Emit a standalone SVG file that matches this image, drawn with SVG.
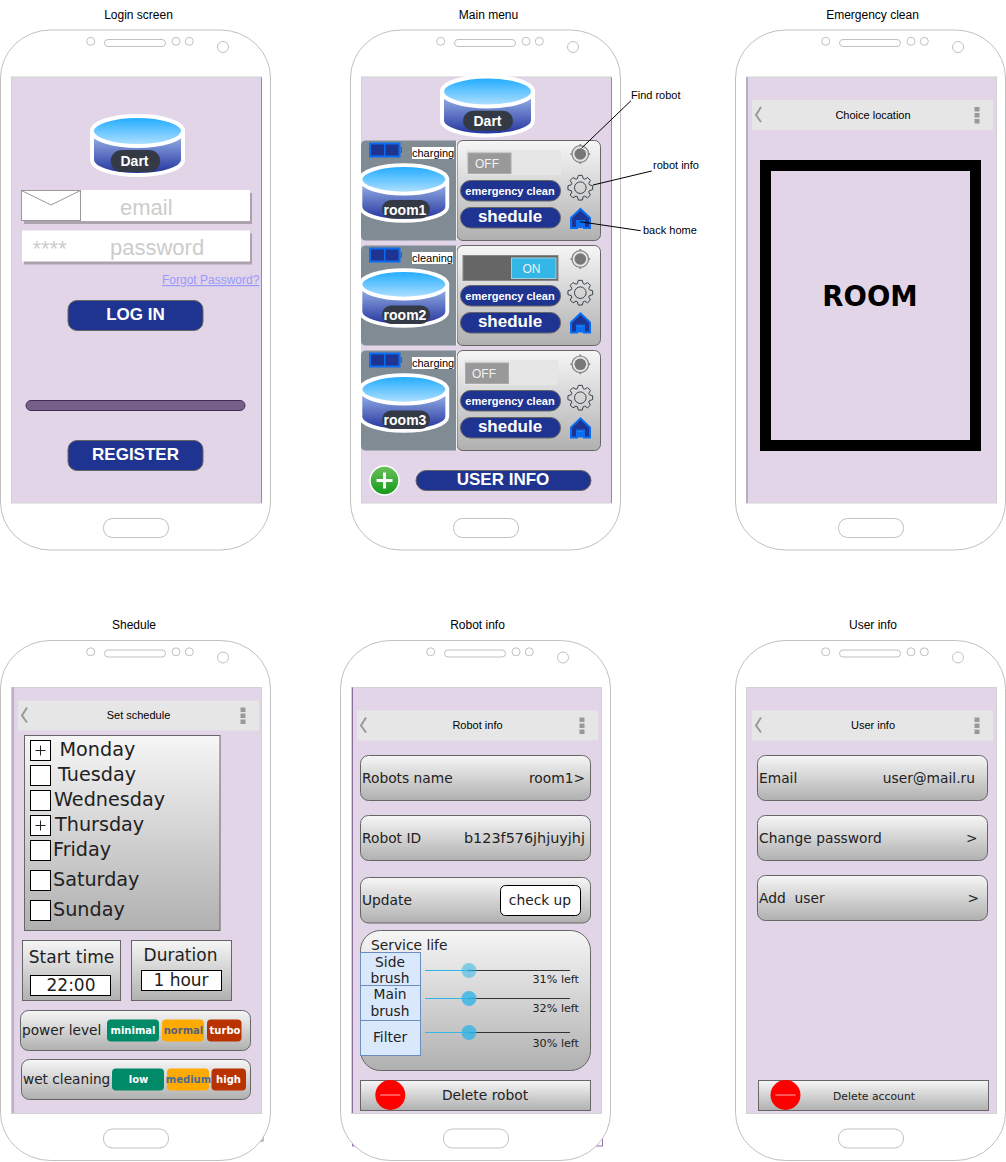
<svg xmlns="http://www.w3.org/2000/svg" width="1006" height="1162" viewBox="0 0 1006 1162">
<style>
text{font-family:"Liberation Sans",Arial,sans-serif;fill:#000}
.m{text-anchor:middle}
.e{text-anchor:end}
.h{font-size:12px}
.s{font-size:11px}
.b{font-weight:bold;fill:#fff}
.d{font-family:"DejaVu Sans",Verdana,sans-serif;fill:#222}
.r{font-size:13.8px}
.day{font-size:19.2px}
.big{font-size:17px}
.pill{fill:#1f3490;stroke:#666;stroke-width:1}
.grad{fill:url(#glass);stroke:#666;stroke-width:1}
.box{fill:#fff;stroke:#000;stroke-width:1}
.hint{fill:#ccc;font-size:22px}
.tag{font-family:"DejaVu Sans",Verdana,sans-serif;font-weight:bold;font-size:10px;text-anchor:middle}
.conn{stroke:#000;stroke-width:1;fill:none}
.edge{stroke:#9d86a8;stroke-width:1;fill:none}
.cell{fill:#dae8fc;stroke:#6c8ebf;stroke-width:1}
</style>
<defs>
<linearGradient id="glass" x1="0" y1="0" x2="0" y2="1"><stop offset="0" stop-color="#f6f6f6"/><stop offset="1" stop-color="#b0b0b0"/></linearGradient>
<linearGradient id="topG" x1="0" y1="0" x2="0" y2="1"><stop offset="0" stop-color="#1aa9ff"/><stop offset="1" stop-color="#b5e2ff"/></linearGradient>
<linearGradient id="bodyG" x1="0" y1="0" x2="0" y2="1"><stop offset="0" stop-color="#a4c0ee"/><stop offset="1" stop-color="#1f2f9c"/></linearGradient>
<linearGradient id="plusG" x1="0" y1="0" x2="0" y2="1"><stop offset="0" stop-color="#6cc05c"/><stop offset="1" stop-color="#129a18"/></linearGradient>
<g id="phone">
<rect x="0" y="0" width="270" height="520" rx="50" ry="48" fill="#fff" stroke="#c0c0c0"/>
<circle cx="90.2" cy="11.3" r="4" fill="#fff" stroke="#c0c0c0"/>
<rect x="104" y="9.5" width="61" height="7" rx="3.5" fill="#fff" stroke="#c0c0c0"/>
<circle cx="175.5" cy="11.3" r="4" fill="#fff" stroke="#c0c0c0"/>
<circle cx="188.8" cy="11.3" r="4" fill="#fff" stroke="#c0c0c0"/>
<circle cx="222.5" cy="17" r="5.5" fill="#fff" stroke="#c0c0c0"/>
<rect x="103" y="488.5" width="65" height="19" rx="9" fill="#fff" stroke="#c0c0c0"/>
<rect x="11" y="47" width="250" height="426" fill="#e1d5e7" stroke="#d2d2d2"/>
</g>
<g id="cyl">
<path d="M2.500 17V46A45.500 15 0 0 0 93.500 46V17Z" fill="url(#bodyG)" stroke="#fff" stroke-width="4"/>
<ellipse cx="48" cy="17" rx="45.500" ry="15" fill="url(#topG)" stroke="#fff" stroke-width="4"/>
</g>
<g id="bar">
<rect x="0" y="0" width="241" height="30" fill="#e6e6e6"/>
<path d="M9 7L4 15L9 22" fill="none" stroke="#999" stroke-width="2"/>
<rect x="222.500" y="7" width="5" height="4.500" fill="#999"/>
<rect x="222.500" y="13" width="5" height="4.500" fill="#999"/>
<rect x="222.500" y="19" width="5" height="4.500" fill="#999"/>
</g>
<g id="target">
<path d="M0-10V10M-10 0H10" stroke="#808080" stroke-width="1.500"/>
<circle r="8.300" fill="#e4e4e4" stroke="#808080" stroke-width="1.200"/>
<circle r="5.800" fill="#777"/>
</g>
<g id="gear" fill="none" stroke="#3a414b" stroke-width="1">
<path d="M9.030-2.940L12.350-1.960V1.960L9.030 2.940L8.460 4.310L10.110 7.350L7.350 10.110L4.310 8.460L2.940 9.030L1.960 12.350H-1.960L-2.940 9.030L-4.310 8.460L-7.350 10.110L-10.110 7.350L-8.460 4.310L-9.030 2.940L-12.350 1.960V-1.960L-9.030-2.940L-8.460-4.310L-10.110-7.350L-7.350-10.110L-4.310-8.460L-2.940-9.030L-1.960-12.350H1.960L2.940-9.030L4.310-8.460L7.350-10.110L10.110-7.350L8.460-4.310Z"/>
<circle r="5.800"/>
</g>
<g id="house">
<path d="M10.500 1L20 10V20H14V13H7V20H1V10Z" fill="#1f3490" stroke="#0a6cf0" stroke-width="2"/>
<rect x="7.500" y="14" width="6" height="6" fill="#0a6cf0"/>
</g>
<g id="battery">
<rect x="0" y="0" width="29.500" height="13" fill="#1f3490" stroke="#0a6cf0" stroke-width="2"/>
<path d="M14.700 0V13" stroke="#0a6cf0" stroke-width="1.500"/>
<rect x="30.500" y="3.500" width="1.500" height="6" fill="#0a6cf0"/>
</g>
<g id="minus">
<circle r="15" fill="#f00"/>
<path d="M-10 0H10" stroke="#ffb0b0" stroke-width="1"/>
</g>
</defs>

<text class="h m" x="138.500" y="19">Login screen</text>
<text class="h m" x="488.500" y="19">Main menu</text>
<text class="h m" x="872.500" y="19">Emergency clean</text>
<text class="h m" x="134" y="629">Shedule</text>
<text class="h m" x="477.500" y="629">Robot info</text>
<text class="h m" x="873" y="629">User info</text>

<g id="login-screen">
<use href="#phone" x="0.500" y="30"/>
<path class="edge" d="M261.500 77.500V503"/>
<use href="#cyl" x="89.500" y="114"/>
<rect x="110.700" y="150" width="49.500" height="22" rx="11" fill="#333a45"/>
<text class="b m" style="font-size:14px" x="134.500" y="165.500">Dart</text>
<rect x="24" y="193" width="228" height="31" fill="#ada3b0"/>
<rect x="22" y="190" width="228" height="31" fill="#fff"/>
<rect x="21.500" y="190.500" width="59" height="30" fill="#fff" stroke="#999"/>
<path d="M21.500 190.500L51 205L80.500 190.500" fill="none" stroke="#999"/>
<text class="hint" x="120" y="215">email</text>
<rect x="24" y="233.500" width="228" height="31" fill="#ada3b0"/>
<rect x="22" y="230.500" width="228" height="31" fill="#fff"/>
<text class="hint" x="32.500" y="256">****</text>
<text class="hint" x="110" y="255">password</text>
<text x="162" y="284" style="font-size:12px;fill:#9999ff;text-decoration:underline">Forgot Password?</text>
<rect class="pill" x="68" y="300.500" width="135" height="30" rx="9"/>
<text class="b m big" x="135.500" y="320">LOG IN</text>
<rect x="26" y="400.500" width="219" height="10" rx="5" fill="#76608a" stroke="#432d57"/>
<rect class="pill" x="68" y="440.500" width="135" height="30" rx="9"/>
<text class="b m big" x="135.500" y="460">REGISTER</text>
</g>

<g id="main-menu">
<use href="#phone" x="350.500" y="30"/>
<path class="edge" d="M611.500 77.500V503"/>
<use href="#cyl" x="439.500" y="74.500"/>
<rect x="463" y="110.700" width="50" height="20" rx="10" fill="#333a45"/>
<text class="b m" style="font-size:14px" x="487.500" y="125.500">Dart</text>
<circle cx="384.500" cy="480.500" r="14.500" fill="url(#plusG)" stroke="#fff" stroke-width="1.500"/>
<path d="M384.500 472.500V488.500M376.500 480.500H392.500" stroke="#fff" stroke-width="3"/>
<rect class="pill" x="416" y="470.500" width="175" height="20" rx="10"/>
<text class="b m big" x="503" y="485">USER INFO</text>
</g>

<g id="card-room1">
<path d="M366 140.500H456.500V240.500H366Q361 240.500 361 235.500V145.500Q361 140.500 366 140.500Z" fill="#808b93"/>
<rect x="457" y="140.500" width="143.500" height="100" rx="6" class="grad"/>
<path d="M456.500 140.500V240.500" stroke="#eee" stroke-width="1"/>
<use href="#battery" x="370" y="143.500"/>
<rect x="412" y="147" width="42" height="12" fill="#fff"/>
<text class="s" x="412" y="157">charging</text>
<use href="#cyl" transform="translate(358 163.300) scale(.955 .945)"/>
<rect x="382" y="200" width="48" height="18.500" rx="9" fill="#333a45"/>
<text class="b m" style="font-size:14px" x="405" y="215">room1</text>
<rect x="466" y="150" width="95" height="25" fill="#e6e6e6"/>
<rect x="468" y="153" width="43" height="20.500" fill="#999" stroke="#aaa"/>
<text class="m" style="font-size:12px;fill:#f2f2f2" x="487" y="167.500">OFF</text>
<rect class="pill" x="460.500" y="180.500" width="100" height="20.500" rx="10"/>
<text class="b m" style="font-size:11px" x="510" y="195">emergency clean</text>
<rect class="pill" x="460.500" y="207.500" width="100" height="20.500" rx="10"/>
<text class="b m big" x="510" y="221.500">shedule</text>
<use href="#target" x="580.300" y="154"/>
<use href="#gear" x="580.300" y="187.700"/>
<use href="#house" x="570" y="208"/>
</g>

<g id="card-room2">
<path d="M366 245.500H456.500V345.500H366Q361 345.500 361 340.500V250.500Q361 245.500 366 245.500Z" fill="#808b93"/>
<rect x="457" y="245.500" width="143.500" height="100" rx="6" class="grad"/>
<path d="M456.500 245.500V345.500" stroke="#eee" stroke-width="1"/>
<use href="#battery" x="370" y="248.500"/>
<rect x="412" y="252" width="41" height="12" fill="#fff"/>
<text class="s" x="412" y="262">cleaning</text>
<use href="#cyl" transform="translate(358 268.300) scale(.955 .945)"/>
<rect x="382" y="305.500" width="48" height="18.500" rx="9" fill="#333a45"/>
<text class="b m" style="font-size:14px" x="405" y="320">room2</text>
<rect x="463" y="255.500" width="95" height="25" fill="#666" stroke="#888"/>
<rect x="511.500" y="258" width="44.500" height="20.500" fill="#33b5e5" stroke="#9fd0e0"/>
<text class="m" style="font-size:12px;fill:#f2f2f2" x="531.500" y="272.500">ON</text>
<rect class="pill" x="460.500" y="285.500" width="100" height="20.500" rx="10"/>
<text class="b m" style="font-size:11px" x="510" y="300">emergency clean</text>
<rect class="pill" x="460.500" y="312.500" width="100" height="20.500" rx="10"/>
<text class="b m big" x="510" y="326.500">shedule</text>
<use href="#target" x="580.300" y="259"/>
<use href="#gear" x="580.300" y="292.700"/>
<use href="#house" x="570" y="312.500"/>
</g>

<g id="card-room3">
<path d="M366 350.500H456.500V450.500H366Q361 450.500 361 445.500V355.500Q361 350.500 366 350.500Z" fill="#808b93"/>
<rect x="457" y="350.500" width="143.500" height="100" rx="6" class="grad"/>
<path d="M456.500 350.500V450.500" stroke="#eee" stroke-width="1"/>
<use href="#battery" x="370" y="353.500"/>
<rect x="412" y="357" width="42" height="12" fill="#fff"/>
<text class="s" x="412" y="367">charging</text>
<use href="#cyl" transform="translate(358 373.300) scale(.955 .945)"/>
<rect x="382" y="410.500" width="48" height="18.500" rx="9" fill="#333a45"/>
<text class="b m" style="font-size:14px" x="405" y="425">room3</text>
<rect x="464" y="360" width="94" height="25" fill="#e6e6e6"/>
<rect x="465.500" y="363" width="43" height="20.500" fill="#999" stroke="#aaa"/>
<text class="m" style="font-size:12px;fill:#f2f2f2" x="484" y="377.500">OFF</text>
<rect class="pill" x="460.500" y="390.500" width="100" height="20.500" rx="10"/>
<text class="b m" style="font-size:11px" x="510" y="405">emergency clean</text>
<rect class="pill" x="460.500" y="417.500" width="100" height="20.500" rx="10"/>
<text class="b m big" x="510" y="431.500">shedule</text>
<use href="#target" x="580.300" y="364.300"/>
<use href="#gear" x="580.300" y="397.700"/>
<use href="#house" x="570" y="417.500"/>
</g>

<g id="connectors">
<path class="conn" d="M581.700 148L631 100.700"/>
<path class="conn" d="M593 185L651.700 171"/>
<path class="conn" d="M580 221.700L640.700 230.700"/>
</g>
<g id="annotations">
<text class="s" x="631" y="99">Find robot</text>
<text class="s" x="653" y="169">robot info</text>
<text class="s" x="643" y="234">back home</text>
</g>

<g id="emergency-clean">
<use href="#phone" x="735.500" y="30"/>
<path d="M747 77.500V503" stroke="#9d86a8" fill="none"/>
<use href="#bar" x="752" y="100"/>
<text class="s m" x="873" y="119">Choice location</text>
<rect x="765.500" y="165.500" width="210" height="280" fill="none" stroke="#000" stroke-width="11"/>
<text class="m d" style="font-size:27.500px;font-weight:bold;fill:#000" x="870" y="306">ROOM</text>
</g>

<g id="shedule">
<rect x="13" y="687" width="250" height="454" fill="none" stroke="#9673a6"/>
<use href="#phone" x="0.500" y="640.500"/>
<path class="edge" d="M13 687.500V1113"/>
<use href="#bar" x="18" y="700.500"/>
<text class="s m" x="138.500" y="719">Set schedule</text>
<rect class="grad" x="24.500" y="735.500" width="195.500" height="195"/>
<rect class="box" x="30.500" y="740.500" width="20" height="20"/>
<path d="M35.500 750.500H45.500M40.500 745.500V755.500" stroke="#222"/>
<rect class="box" x="30.500" y="765.500" width="20" height="20"/>
<rect class="box" x="30.500" y="790.500" width="20" height="20"/>
<rect class="box" x="30.500" y="815.500" width="20" height="20"/>
<path d="M35.500 825.500H45.500M40.500 820.500V830.500" stroke="#222"/>
<rect class="box" x="30.500" y="840.500" width="20" height="20"/>
<rect class="box" x="30.500" y="870.500" width="20" height="20"/>
<rect class="box" x="30.500" y="900.500" width="20" height="20"/>
<text class="d day" x="59.500" y="756">Monday</text>
<text class="d day" x="58" y="781">Tuesday</text>
<text class="d day" x="54" y="806">Wednesday</text>
<text class="d day" x="55" y="831">Thursday</text>
<text class="d day" x="53" y="856">Friday</text>
<text class="d day" x="53" y="886">Saturday</text>
<text class="d day" x="53" y="916">Sunday</text>
<rect class="grad" x="22.500" y="940.500" width="98" height="60"/>
<text class="d m" style="font-size:17px" x="71.500" y="963">Start time</text>
<rect class="box" x="30.500" y="975.500" width="80" height="20"/>
<text class="d m" style="font-size:17px" x="71" y="991">22:00</text>
<rect class="grad" x="131.500" y="940.500" width="100" height="60"/>
<text class="d m" style="font-size:17px" x="180.500" y="961">Duration</text>
<rect class="box" x="141.500" y="970.500" width="80" height="20"/>
<text class="d m" style="font-size:17px" x="181" y="986">1 hour</text>
<rect class="grad" x="20.500" y="1010.500" width="230" height="40" rx="8"/>
<text class="d" style="font-size:13.700px" x="22" y="1035">power level</text>
<rect x="107" y="1019.500" width="52" height="22" rx="4" fill="#008a68"/>
<text class="tag" style="fill:#fff" x="133" y="1034">minimal</text>
<rect x="162" y="1019.500" width="42" height="22" rx="4" fill="#ffaa00"/>
<text class="tag" style="fill:#555f80" x="183.500" y="1034">normal</text>
<rect x="207" y="1019.500" width="34.500" height="22" rx="4" fill="#b83300"/>
<text class="tag" style="fill:#fff" x="225" y="1034">turbo</text>
<rect class="grad" x="21.500" y="1059.500" width="229" height="40" rx="8"/>
<text class="d" style="font-size:13.700px" x="23" y="1084">wet cleaning</text>
<rect x="112" y="1068.500" width="52" height="22" rx="4" fill="#008a68"/>
<text class="tag" style="fill:#fff" x="138.500" y="1083">low</text>
<rect x="167" y="1068.500" width="42" height="22" rx="4" fill="#ffaa00"/>
<text class="tag" style="fill:#4a6a9a" x="188.500" y="1083">medium</text>
<rect x="211.500" y="1068.500" width="34.500" height="22" rx="4" fill="#b83300"/>
<text class="tag" style="fill:#fff" x="228.500" y="1083">high</text>
</g>

<g id="robot-info">
<rect x="352.500" y="687" width="250" height="459" fill="none" stroke="#9673a6"/>
<use href="#phone" x="340.500" y="640.500"/>
<path d="M352.500 687.500V1113" stroke="#8a6f9a" fill="none"/>
<use href="#bar" x="357" y="710.500"/>
<text class="s m" x="477.500" y="729">Robot info</text>
<rect class="grad" x="360.500" y="755.500" width="230" height="45" rx="8"/>
<text class="d r" x="362" y="783">Robots name</text>
<text class="d r e" x="585" y="783">room1&gt;</text>
<rect class="grad" x="360.500" y="815.500" width="230" height="45" rx="8"/>
<text class="d r" x="362" y="843">Robot ID</text>
<text class="d e" style="font-size:14.400px" x="585" y="843">b123f576jhjuyjhj</text>
<rect class="grad" x="360.500" y="877.500" width="230" height="45.500" rx="8"/>
<text class="d r" x="362" y="905">Update</text>
<rect class="box" x="500.500" y="885.500" width="80" height="30" rx="5"/>
<text class="d r m" x="540" y="905">check up</text>
<rect class="grad" x="360.500" y="930.500" width="230" height="140" rx="20"/>
<text class="d r" x="371" y="950">Service life</text>
<rect class="cell" x="360.500" y="952.500" width="60" height="33"/>
<rect class="cell" x="360.500" y="985.500" width="60" height="35"/>
<rect class="cell" x="360.500" y="1020.500" width="60" height="35"/>
<text class="d r m" x="390" y="967">Side</text>
<text class="d r m" x="390" y="983">brush</text>
<text class="d r m" x="390" y="999">Main</text>
<text class="d r m" x="390" y="1016">brush</text>
<text class="d r m" x="390" y="1042">Filter</text>
<path d="M469 970.500H570M469 998.500H570M469 1032.500H570" stroke="#333" fill="none"/>
<path d="M425 970.500H469M425 998.500H469M425 1032.500H469" stroke="#33b5e5" fill="none"/>
<circle cx="469" cy="970.500" r="7.500" fill="#33b5e5" opacity=".55"/>
<circle cx="469" cy="970.500" r="1.500" fill="#33b5e5"/>
<circle cx="469" cy="998.500" r="7.500" fill="#33b5e5" opacity=".8"/>
<circle cx="469" cy="998.500" r="1.500" fill="#33b5e5"/>
<circle cx="469" cy="1032.500" r="7.500" fill="#33b5e5" opacity=".8"/>
<circle cx="469" cy="1032.500" r="1.500" fill="#33b5e5"/>
<text class="d e" style="font-size:11.200px" x="579" y="983">31% left</text>
<text class="d e" style="font-size:11.200px" x="579" y="1012">32% left</text>
<text class="d e" style="font-size:11.200px" x="579" y="1047">30% left</text>
<rect class="grad" x="360.500" y="1080.500" width="230" height="30"/>
<use href="#minus" x="390.300" y="1095"/>
<text class="d r m" x="485" y="1100">Delete robot</text>
</g>

<g id="user-info">
<use href="#phone" x="735.500" y="640.500"/>
<use href="#bar" x="752" y="710.500"/>
<text class="s m" x="873" y="729">User info</text>
<rect class="grad" x="757.500" y="755.500" width="230" height="45" rx="8"/>
<text class="d r" x="759" y="783">Email</text>
<text class="d r e" x="975" y="783">user@mail.ru</text>
<rect class="grad" x="757.500" y="815.500" width="230" height="45" rx="8"/>
<text class="d r" x="759" y="843">Change password</text>
<text class="d r e" x="977.500" y="843">&gt;</text>
<rect class="grad" x="757.500" y="875.500" width="230" height="45" rx="8"/>
<text class="d r" x="759" y="903" xml:space="preserve" style="white-space:pre">Add  user</text>
<text class="d r e" x="979" y="903">&gt;</text>
<rect class="grad" x="758.500" y="1080.500" width="230" height="30"/>
<use href="#minus" x="785.500" y="1095"/>
<text class="d m" style="font-size:10.800px" x="874" y="1100">Delete account</text>
</g>
</svg>
